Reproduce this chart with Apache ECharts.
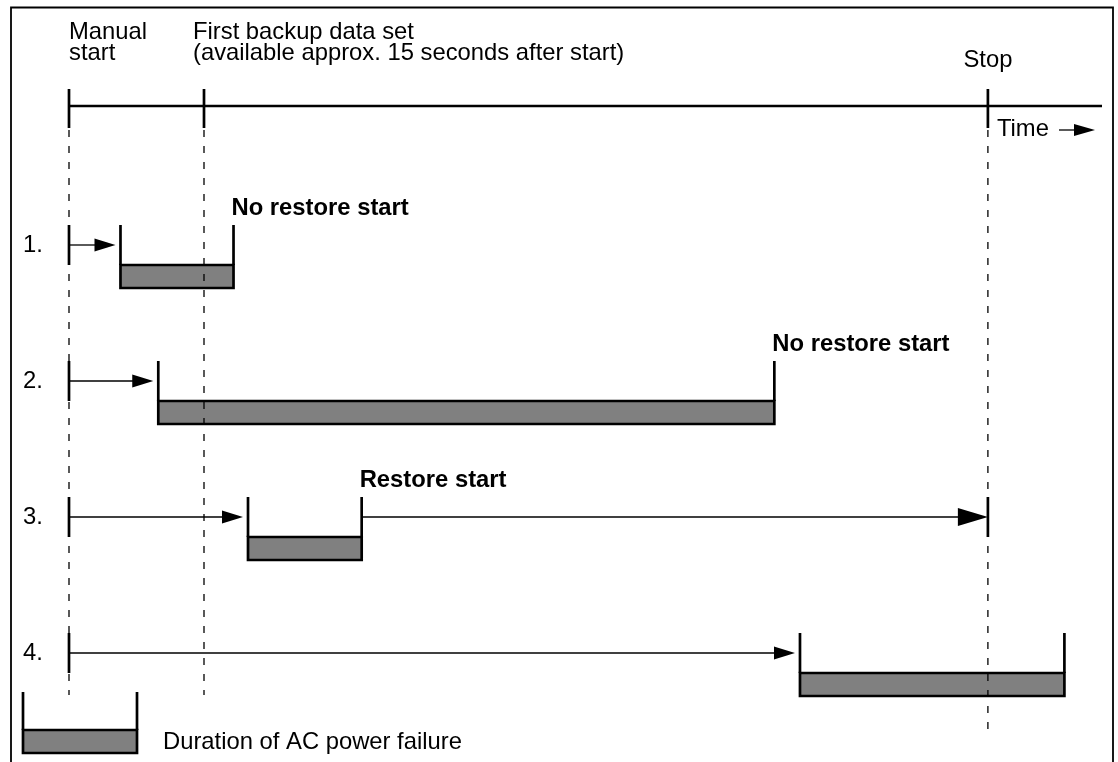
<!DOCTYPE html>
<html><head><meta charset="utf-8">
<script src="https://cdn.jsdelivr.net/npm/echarts@6/dist/echarts.min.js"></script>
<style>html,body{margin:0;padding:0;background:#fff}#c{width:1118px;height:762px}</style>
</head><body><div id="c"></div>
<script>
// ---- data (time in seconds after manual start) ----
const markerLabels = ['Manual\nstart', 'First backup data set\n(available approx. 15 seconds after start)', 'Stop'];
const markerTimes = [0, 15, 102.1];
const rowLabels = ['1.', '2.', '3.', '4.'];
const failureStart = [5.72, 9.92, 19.89, 81.22];
const failureEnd = [18.28, 78.37, 32.52, 110.6];
const rowNotes = ['No restore start', 'No restore start', 'Restore start', ''];
const restoreRuns = [false, false, true, false];
const timeAxisLabel = 'Time';
const legendLabel = 'Duration of AC power failure';
const xMax = 114;

// ---- styles ----
const FONT = '"Liberation Sans", Arial, Helvetica, sans-serif';
const FS = 23.8;
const INK = '#000';
const GREY = '#808080';
const THICK = 2.7;
const THIN = 1.3;
const DASH = [7, 9];

function txt(x, y, text, opts) {
  return {
    type: 'text', x: x, y: y,
    style: Object.assign({
      text: text, fill: INK, fontSize: FS, fontFamily: FONT,
      align: 'left', verticalAlign: 'middle'
    }, opts || {})
  };
}
function seg(x1, y1, x2, y2, w, dash) {
  const s = { stroke: INK, lineWidth: w };
  if (dash) s.lineDash = dash;
  return { type: 'line', shape: { x1: x1, y1: y1, x2: x2, y2: y2 }, style: s };
}
function arrowHead(tipX, y, len, half) {
  return { type: 'polygon', shape: { points: [[tipX - len, y - half], [tipX, y], [tipX - len, y + half]] }, style: { fill: INK } };
}

const rowData = rowLabels.map((l, i) => [i + 1, failureStart[i], failureEnd[i]]);
const markerData = markerTimes.map((t) => [t, 1]);

function renderRow(params, api) {
  const i = params.dataIndex;
  const row = api.value(0);
  const p0 = api.coord([0, row]);
  const x0 = p0[0], y = p0[1];
  const xs = api.coord([api.value(1), row])[0];
  const xe = api.coord([api.value(2), row])[0];
  const ch = [];
  ch.push(txt(x0 - 46, y, rowLabels[i]));
  ch.push(seg(x0, y - 20, x0, y + 20, THICK));
  const tip = xs - 5;
  ch.push(seg(x0, y, tip - 18, y, THIN));
  ch.push(arrowHead(tip, y, 21, 6.5));
  ch.push({ type: 'rect', shape: { x: xs, y: y + 20, width: xe - xs, height: 23 }, style: { fill: GREY, stroke: INK, lineWidth: THICK } });
  ch.push(seg(xs, y - 20, xs, y + 20, THICK));
  ch.push(seg(xe, y - 20, xe, y + 20, THICK));
  if (rowNotes[i]) {
    ch.push(txt(xe - 2, y - 37, rowNotes[i], { fontWeight: 'bold' }));
  }
  if (restoreRuns[i]) {
    const sx = api.coord([markerTimes[2], row])[0];
    ch.push(seg(xe, y, sx - 28, y, THIN));
    ch.push(arrowHead(sx, y, 30, 9));
    ch.push(seg(sx, y - 20, sx, y + 20, THICK));
  }
  return { type: 'group', children: ch };
}

function renderMarker(params, api) {
  const i = params.dataIndex;
  const t = api.value(0);
  const r1 = api.coord([t, 1]);
  const r4 = api.coord([t, 4]);
  const x = r1[0];
  const hy = r1[1] - 139;
  const ch = [];
  if (i === 0) {
    const xr = api.coord([xMax, 1])[0];
    ch.push(seg(x, hy, xr + 7, hy, 2.3));
  }
  ch.push(seg(x, hy - 17, x, hy + 22, THICK));
  const extra = (i === markerTimes.length - 1) ? 82 : 42;
  ch.push(seg(x, hy + 24, x, r4[1] + extra, THIN, DASH));
  if (i === 0) {
    ch.push(txt(x, 22.4, markerLabels[i], { verticalAlign: 'top', lineHeight: 21 }));
  } else if (i === 1) {
    ch.push(txt(x - 11, 22.4, markerLabels[i], { verticalAlign: 'top', lineHeight: 21 }));
  } else {
    ch.push(txt(x, 60, markerLabels[i], { align: 'center' }));
    ch.push(txt(x + 9, hy + 23, timeAxisLabel));
    const xr = api.coord([xMax, 1])[0];
    ch.push(seg(xr - 36, hy + 24, xr - 18, hy + 24, THIN));
    ch.push(arrowHead(xr, hy + 24, 21, 6));
  }
  return { type: 'group', children: ch };
}

const chart = echarts.init(document.getElementById('c'), null, { renderer: 'canvas' });
chart.setOption({
  animation: false,
  backgroundColor: '#fff',
  grid: { left: 69, right: 23, top: 245, bottom: 109 },
  xAxis: { type: 'value', min: 0, max: xMax, show: false },
  yAxis: { type: 'value', min: 1, max: 4, inverse: true, show: false },
  series: [
    { type: 'custom', clip: false, z: 2, data: rowData, renderItem: renderRow },
    { type: 'custom', clip: false, z: 3, data: markerData, renderItem: renderMarker }
  ],
  graphic: [
    { type: 'polyline', shape: { points: [[11, 775], [11, 7.5], [1113, 7.5], [1113, 775]] }, style: { stroke: INK, lineWidth: 1.8, fill: null } },
    { type: 'rect', shape: { x: 23, y: 730, width: 114, height: 23 }, style: { fill: GREY, stroke: INK, lineWidth: THICK } },
    { type: 'line', shape: { x1: 23, y1: 692, x2: 23, y2: 730 }, style: { stroke: INK, lineWidth: THICK } },
    { type: 'line', shape: { x1: 137, y1: 692, x2: 137, y2: 730 }, style: { stroke: INK, lineWidth: THICK } },
    { type: 'text', x: 163, y: 742.6, style: { text: legendLabel, fill: INK, fontSize: FS, fontFamily: FONT, align: 'left', verticalAlign: 'middle' } }
  ]
});
</script></body></html>
